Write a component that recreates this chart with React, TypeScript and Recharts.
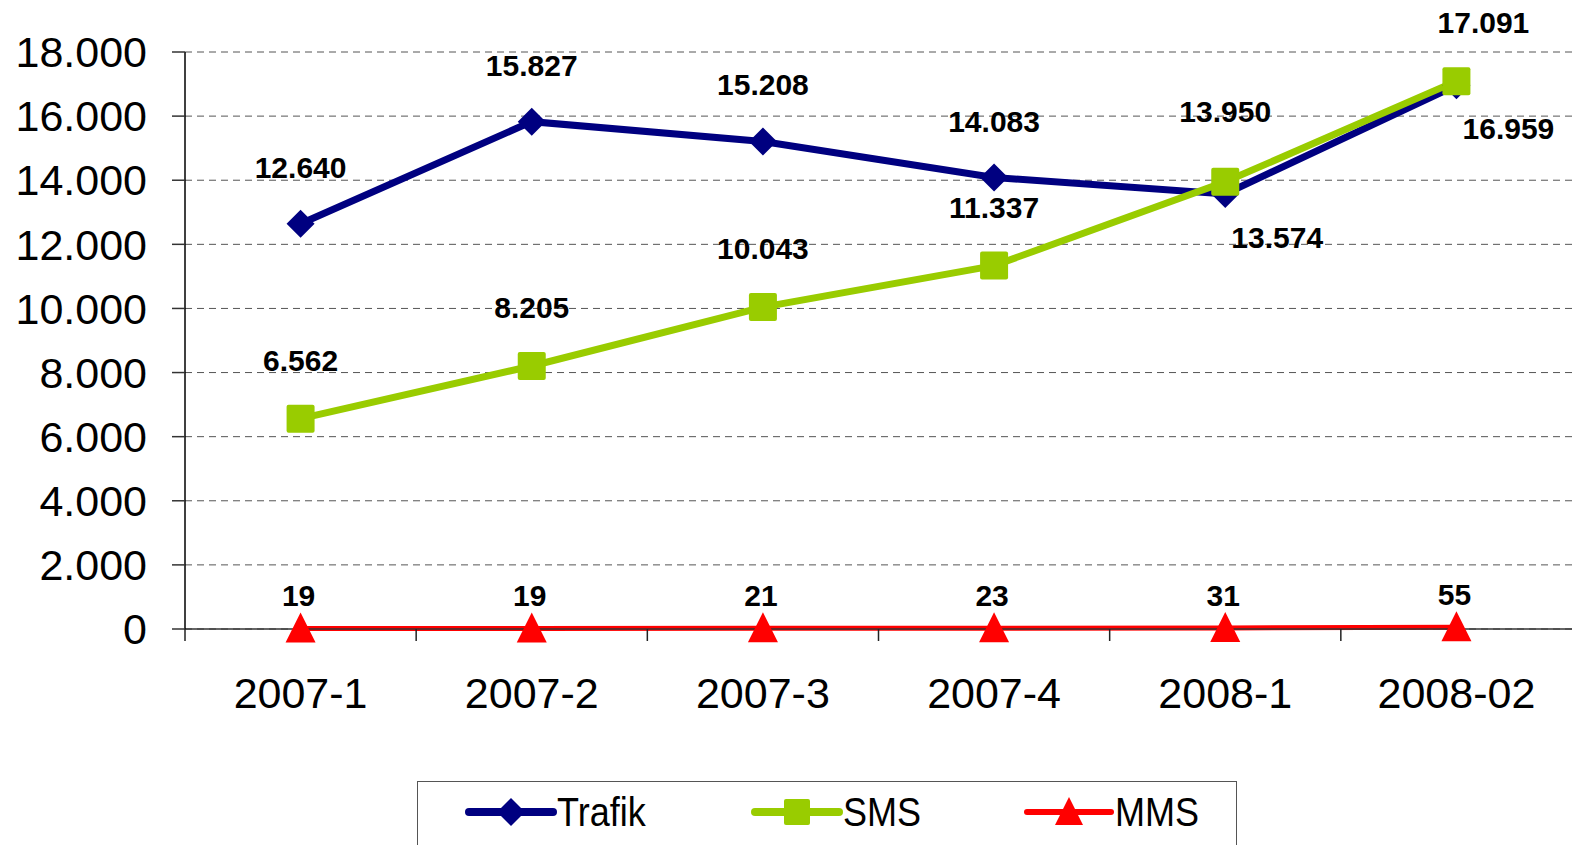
import { CartesianGrid, LabelList, Legend, Line, LineChart, XAxis, YAxis } from "recharts";

const periods = ["2007-1", "2007-2", "2007-3", "2007-4", "2008-1", "2008-02"];
const trafik = [12640, 15827, 15208, 14083, 13574, 16959];
const sms = [6562, 8205, 10043, 11337, 13950, 17091];
const mms = [19, 19, 21, 23, 31, 55];
const yTicks = [0, 2000, 4000, 6000, 8000, 10000, 12000, 14000, 16000, 18000];

const data = periods.map((p, i) => ({
  period: p,
  Trafik: trafik[i],
  SMS: sms[i],
  MMS: mms[i],
}));

const W = 1572;
const H = 845;
// the legend (80px) is added to the bottom offset by recharts
const MARGIN = { top: 52, right: 0, bottom: 36, left: 0 };
const Y_W = 185;
const PLOT_W = W - MARGIN.left - MARGIN.right - Y_W;
const BAND = PLOT_W / periods.length;
const FONT = "'Liberation Sans', Arial, Helvetica, sans-serif";

const NAVY = "#000080";
const GREEN = "#99CC00";
const RED = "#FF0000";

const fmt = (n: number) => String(n).replace(/\B(?=(\d{3})+(?!\d))/g, ".");

const diamond = (cx: number, cy: number, r: number, fill: string) => (
  <polygon points={`${cx},${cy - r} ${cx + r},${cy} ${cx},${cy + r} ${cx - r},${cy}`} fill={fill} />
);
const square = (cx: number, cy: number, s: number, fill: string) => (
  <rect x={cx - s / 2} y={cy - s / 2} width={s} height={s} rx={2} fill={fill} />
);
const triangle = (cx: number, cy: number, s: number, fill: string) => (
  <polygon points={`${cx},${cy - s / 2 - 1} ${cx + s / 2},${cy + s / 2 - 1} ${cx - s / 2},${cy + s / 2 - 1}`} fill={fill} />
);

const series = [
  { key: "Trafik", color: NAVY, width: 7, marker: diamond, size: 14, itemW: 286 },
  { key: "SMS", color: GREEN, width: 7, marker: square, size: 26, itemW: 272 },
  { key: "MMS", color: RED, width: 5, marker: triangle, size: 28, itemW: 220 },
];

const XTick = ({ x, y, payload }: any) => (
  <g>
    <line x1={x - BAND / 2} x2={x - BAND / 2} y1={y} y2={y + 12} stroke="#222" strokeWidth={1.5} />
    <text x={x} y={y + 79} textAnchor="middle" fontSize={43} fontFamily={FONT} fill="#000">
      {payload.value}
    </text>
  </g>
);

const valueLabel = (dx: (i: number) => number, dy: (i: number) => number) => (props: any) => {
  const { x, y, value, index } = props;
  return (
    <text
      x={x + dx(index)}
      y={y + dy(index)}
      textAnchor="middle"
      fontSize={30}
      fontWeight="bold"
      fontFamily={FONT}
      fill="#000"
    >
      {fmt(value)}
    </text>
  );
};

const LegendBox = () => (
  <div
    style={{
      width: 820,
      height: 80,
      boxSizing: "border-box",
      border: "1.5px solid #555",
      background: "#fff",
      display: "flex",
      alignItems: "center",
      paddingLeft: 47,
      paddingBottom: 18,
      fontFamily: FONT,
      overflow: "hidden",
    }}
  >
    {series.map((s) => (
      <div key={s.key} style={{ width: s.itemW, flexShrink: 0, display: "flex", alignItems: "center" }}>
        <svg width={92} height={36}>
          <line x1={4} x2={88} y1={18} y2={18} stroke={s.color} strokeWidth={s.width + 1} strokeLinecap="round" />
          {s.marker(46, 18, s.size, s.color)}
        </svg>
        <span
          style={{
            display: "inline-block",
            fontSize: 40,
            color: "#000",
            transform: "scaleX(0.9)",
            transformOrigin: "left center",
            lineHeight: 1,
          }}
        >
          {s.key}
        </span>
      </div>
    ))}
  </div>
);

export default function App() {
  return (
    <div style={{ position: "absolute", left: 0, top: 0, width: W, height: H, background: "#fff", overflow: "hidden" }}>
      <LineChart width={W} height={H} data={data} margin={MARGIN}>
        <CartesianGrid vertical={false} stroke="#555" strokeDasharray="7 5" />
        <XAxis
          dataKey="period"
          height={100}
          padding={{ left: BAND / 2, right: BAND / 2 }}
          axisLine={{ stroke: "#333", strokeWidth: 1.5 }}
          tickLine={false}
          tickSize={0}
          tickMargin={0}
          tick={<XTick />}
          interval={0}
        />
        <YAxis
          width={Y_W}
          domain={[0, 18000]}
          ticks={yTicks}
          tickFormatter={fmt}
          tickSize={13}
          tickMargin={25}
          axisLine={{ stroke: "#000", strokeWidth: 1.5 }}
          tickLine={{ stroke: "#333", strokeWidth: 1.5 }}
          tick={{ fontSize: 43, fill: "#000", fontFamily: FONT }}
        />
        <Legend
          layout="vertical"
          align="center"
          verticalAlign="bottom"
          wrapperStyle={{ left: 417, top: 781, bottom: "auto", width: 820 }}
          content={() => <LegendBox />}
        />
        <Line
          dataKey="Trafik"
          stroke={NAVY}
          strokeWidth={7}
          isAnimationActive={false}
          dot={(p: any) => <g key={`t${p.index}`}>{diamond(p.cx, p.cy, 14, NAVY)}</g>}
          activeDot={false}
        >
          <LabelList content={valueLabel((i) => (i >= 4 ? 52 : 0), (i) => (i >= 4 ? 54 : -46))} />
        </Line>
        <Line
          dataKey="SMS"
          stroke={GREEN}
          strokeWidth={7}
          isAnimationActive={false}
          dot={(p: any) => <g key={`s${p.index}`}>{square(p.cx, p.cy, 28, GREEN)}</g>}
          activeDot={false}
        >
          <LabelList content={valueLabel((i) => (i === 5 ? 27 : 0), (i) => (i === 4 ? -60 : -48))} />
        </Line>
        <Line
          dataKey="MMS"
          stroke={RED}
          strokeWidth={5}
          isAnimationActive={false}
          dot={(p: any) => <g key={`m${p.index}`}>{triangle(p.cx, p.cy, 30, RED)}</g>}
          activeDot={false}
        >
          <LabelList content={valueLabel(() => -2, () => -22)} />
        </Line>
      </LineChart>
    </div>
  );
}
